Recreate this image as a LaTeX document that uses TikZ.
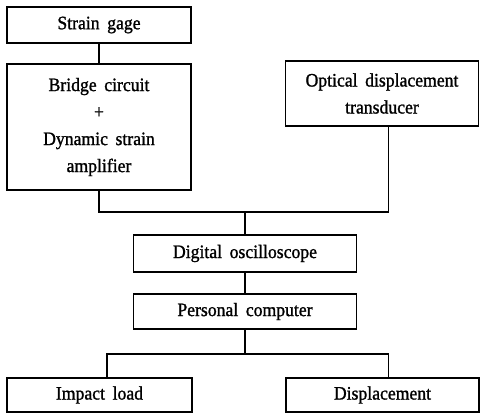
\documentclass[tikz,border=0pt]{standalone}
\usepackage{fontspec}
\setmainfont{Liberation Serif}[FakeStretch=0.93, FakeBold=1.2]
\usetikzlibrary{calc}
\newcommand\blkfont{\fontsize{19pt}{27pt}\selectfont\spaceskip=0.4em\relax}
\begin{document}
\begin{tikzpicture}[x=1pt,y=-1pt,
  blk/.style={draw, line width=1.8pt, inner sep=0pt, align=center, font=\blkfont},
  con/.style={line width=1.3pt}]
\useasboundingbox (0,0) rectangle (480,413);
\node[blk, minimum width=184pt, minimum height=36pt] (sg) at (99,25) {Strain gage};
\node[blk, minimum width=184pt, minimum height=126pt] (br) at (99,127) {Bridge circuit\\+\\Dynamic strain\\amplifier};
\node[blk, minimum width=193pt, minimum height=65pt] (op) at (382,93.5) {Optical displacement\\transducer};
\node[blk, minimum width=223pt, minimum height=37pt] (dso) at (245,253.5) {Digital oscilloscope};
\node[blk, minimum width=223pt, minimum height=35pt] (pc) at (245,311.5) {Personal computer};
\node[blk, minimum width=185pt, minimum height=34pt] (il) at (99.5,395) {Impact load};
\node[blk, minimum width=193pt, minimum height=34pt] (dp) at (382.5,395) {Displacement};
\coordinate (jt) at (245,212);
\coordinate (jb) at (245,354);
\coordinate (opc) at (388.5,126);
\coordinate (dpc) at (388.5,378);
\coordinate (ilc) at (107,378);
\draw[con] (sg.south) -- (br.north);
\draw[con] (br.south) |- (jt) -| (opc);
\draw[con] (jt) -- (dso.north);
\draw[con] (dso.south) -- (pc.north);
\draw[con] (pc.south) -- (jb);
\draw[con] (ilc) |- (jb) -| (dpc);
\end{tikzpicture}
\end{document}
